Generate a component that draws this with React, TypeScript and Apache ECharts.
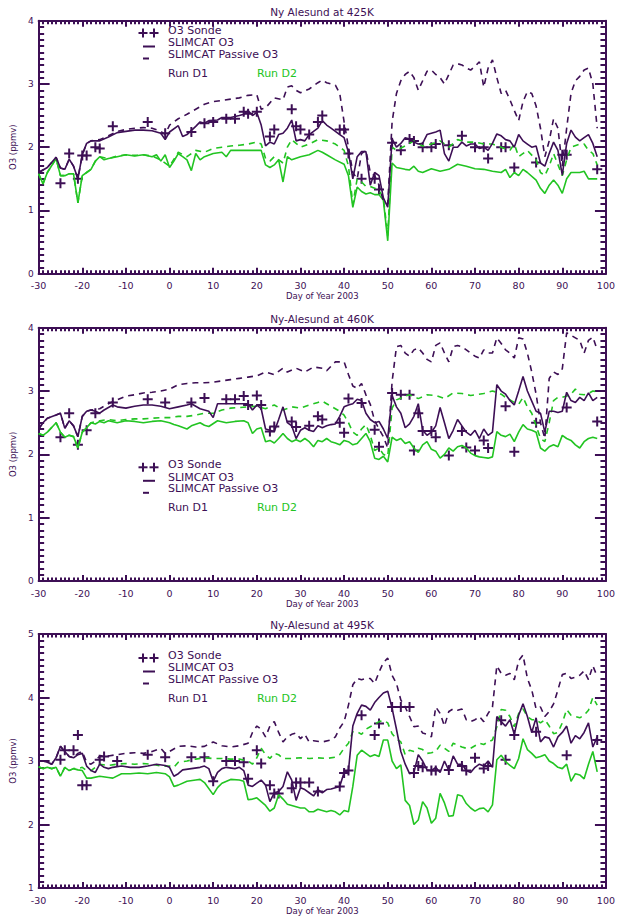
import React, { useEffect, useRef } from 'react';
import * as echarts from 'echarts';

const PURPLE = '#3d0f55';
const GREEN = '#22c422';
const FONT = 'DejaVu Sans';

const TITLES = ['Ny Alesund at 425K', 'Ny-Alesund at 460K', 'Ny-Alesund at 495K'];
const Y_MIN = [0, 0, 1];
const Y_MAX = [4, 4, 5];
const X_MIN = -30;
const X_MAX = 100;
const X_NAME = 'Day of Year 2003';
const Y_NAME = 'O3 (ppmv)';
const LEGEND_LABELS = ['O3 Sonde', 'SLIMCAT O3', 'SLIMCAT Passive O3', 'Run D1', 'Run D2'];

// ---------- Panel 1 : 425K ----------
const p1D1 = [[-30,1.6],[-28,1.68],[-26,1.84],[-25,1.67],[-24,1.65],[-23,1.81],[-22,1.7],[-21,1.5],[-20,1.88],[-19,2.06],[-18,2.1],[-16,2.1],[-14,2.16],[-12,2.23],[-10,2.25],[-8,2.27],[-6,2.27],[-4,2.26],[-2,2.22],[-1,2.12],[0,2.24],[2,2.34],[3,2.17],[4,2.2],[6,2.33],[7,2.4],[8,2.38],[9,2.42],[11,2.43],[12,2.47],[14,2.47],[16,2.5],[17,2.52],[18,2.58],[19,2.5],[20,2.55],[21,2.35],[22,2.02],[23,2.08],[24,2.05],[25,2.2],[26,2.22],[27,2.3],[28,2.43],[29,2.1],[30,2.12],[31,2.1],[32,2.2],[33,2.25],[34,2.3],[35,2.42],[36,2.35],[37,2.3],[38,2.25],[39,2.2],[40,2.15],[41,1.92],[42,1.5],[43,1.85],[44,1.93],[45,1.93],[46,1.4],[47,1.6],[48,1.55],[49,1.2],[50,1.05],[51,2.13],[52,2.0],[53,2.06],[54,2.15],[55,2.13],[56,2.08],[57,2.05],[58,2.06],[59,2.2],[60,2.22],[61,2.24],[62,2.27],[63,1.9],[64,1.78],[65,2.0],[66,2.0],[67,2.08],[68,2.02],[69,2.05],[70,2.05],[71,1.98],[72,2.0],[73,1.95],[74,2.06],[75,2.21],[76,2.18],[77,2.12],[78,2.1],[79,2.0],[80,2.2],[81,2.1],[82,2.05],[83,2.0],[84,2.02],[85,1.75],[86,1.7],[87,1.9],[88,2.08],[89,1.95],[90,1.56],[91,2.06],[92,2.27],[93,2.16],[94,2.1],[95,2.15],[96,2.2],[97,2.06],[98,1.85]];
const p1D1Passive = [[-30,1.6],[-28,1.68],[-26,1.84],[-25,1.67],[-24,1.65],[-23,1.81],[-22,1.7],[-21,1.5],[-20,1.88],[-19,2.06],[-18,2.1],[-16,2.12],[-14,2.18],[-12,2.25],[-10,2.28],[-8,2.3],[-6,2.31],[-4,2.3],[-2,2.25],[-1,2.2],[0,2.35],[2,2.45],[4,2.52],[6,2.6],[8,2.68],[10,2.72],[12,2.74],[14,2.76],[16,2.78],[18,2.82],[20,2.83],[21,2.6],[22,2.62],[24,2.78],[26,2.75],[27,2.95],[28,2.97],[29,2.9],[30,2.86],[32,2.92],[34,3.02],[35,3.06],[36,3.02],[38,2.98],[39,2.85],[40,2.4],[41,2.0],[42,1.6],[43,1.5],[44,1.9],[45,1.95],[46,1.6],[47,1.55],[48,1.4],[49,1.15],[50,1.1],[51,2.4],[52,2.85],[53,3.05],[54,3.15],[55,3.2],[56,3.1],[57,2.9],[58,3.05],[59,3.2],[60,3.22],[61,3.15],[62,3.1],[63,3.0],[64,3.15],[65,3.3],[66,3.32],[67,3.3],[68,3.25],[69,3.22],[70,3.28],[71,3.35],[72,2.95],[73,3.25],[74,3.38],[75,3.1],[76,2.85],[77,2.9],[78,2.75],[79,2.58],[80,2.42],[81,2.72],[82,2.88],[83,2.85],[84,2.65],[85,2.3],[86,1.85],[87,2.1],[88,2.45],[89,2.3],[90,1.7],[91,2.3],[92,2.85],[93,3.05],[94,3.12],[95,3.22],[96,3.25],[97,3.0],[98,2.3]];
const p1D2 = [[-30,1.58],[-29,1.42],[-28,1.6],[-26,1.82],[-25,1.55],[-24,1.55],[-23,1.58],[-22,1.58],[-21,1.12],[-20,1.55],[-19,1.6],[-18,1.65],[-17,1.78],[-16,1.85],[-15,1.8],[-14,1.82],[-12,1.85],[-10,1.88],[-8,1.86],[-6,1.88],[-4,1.85],[-3,1.88],[-2,1.78],[-1,1.88],[0,1.68],[1,1.78],[2,1.9],[3,1.85],[4,1.8],[5,1.63],[6,1.9],[7,1.8],[8,1.85],[10,1.9],[12,1.92],[13,1.85],[14,1.95],[16,1.95],[18,1.95],[20,1.95],[21,1.95],[22,1.72],[23,1.68],[24,1.72],[25,1.8],[26,1.45],[27,1.85],[28,1.8],[30,1.85],[32,1.88],[34,1.95],[35,1.92],[36,1.88],[38,1.8],[40,1.73],[41,1.55],[42,1.05],[43,1.37],[44,1.3],[45,1.26],[46,1.28],[47,1.25],[48,1.25],[49,1.16],[50,0.52],[51,1.75],[52,1.68],[54,1.65],[55,1.64],[56,1.7],[57,1.62],[58,1.6],[60,1.66],[62,1.62],[64,1.65],[66,1.73],[68,1.7],[70,1.66],[72,1.65],[74,1.62],[76,1.6],[77,1.65],[78,1.52],[79,1.6],[80,1.55],[81,1.65],[82,1.6],[84,1.48],[85,1.35],[86,1.27],[87,1.4],[88,1.48],[89,1.4],[90,1.27],[91,1.5],[92,1.6],[94,1.6],[95,1.62],[96,1.5],[98,1.5]];
const p1D2Passive = [[-30,1.58],[-29,1.42],[-28,1.6],[-26,1.82],[-25,1.55],[-24,1.55],[-23,1.58],[-22,1.58],[-21,1.12],[-20,1.55],[-19,1.6],[-18,1.65],[-17,1.78],[-16,1.85],[-14,1.82],[-12,1.86],[-10,1.88],[-8,1.87],[-6,1.88],[-4,1.86],[-2,1.8],[0,1.7],[2,1.92],[4,1.85],[6,1.95],[8,1.92],[10,1.98],[12,2.0],[14,2.02],[16,2.03],[18,2.05],[20,2.08],[21,2.05],[22,1.82],[23,1.78],[24,1.85],[26,1.75],[27,2.0],[28,2.12],[30,2.0],[32,2.05],[34,2.12],[36,2.1],[38,2.05],[40,1.95],[41,1.7],[42,1.1],[43,1.5],[44,1.45],[45,1.38],[46,1.38],[47,1.35],[48,1.32],[49,1.2],[50,0.6],[51,2.0],[52,1.95],[54,2.02],[56,2.1],[58,2.02],[60,2.05],[62,2.1],[64,2.0],[66,2.12],[68,2.08],[70,2.08],[72,2.05],[74,2.05],[76,2.0],[78,1.95],[79,2.05],[80,1.85],[82,1.95],[84,1.8],[85,1.6],[86,1.55],[87,1.7],[88,1.9],[90,1.55],[91,1.8],[92,2.0],[94,2.05],[95,2.05],[96,1.95],[97,1.9],[98,1.72]];
const p1Sonde = [[-25,1.43],[-23,1.9],[-21,1.5],[-20,1.87],[-19,1.87],[-17,2.0],[-16,1.98],[-13,2.33],[-5,2.4],[-1,2.22],[5,2.24],[8,2.38],[10,2.4],[13,2.45],[15,2.45],[17,2.56],[18,2.53],[20,2.56],[23,2.17],[24,2.28],[28,2.6],[29,2.33],[30,2.28],[32,2.2],[34,2.4],[35,2.5],[39,2.28],[40,2.28],[41,1.9],[44,1.5],[47,1.5],[48,1.33],[51,2.07],[53,1.95],[55,2.13],[56,2.1],[58,2.0],[60,2.0],[61,2.05],[64,2.03],[67,2.18],[70,2.0],[72,2.0],[73,1.82],[76,2.0],[77,2.0],[79,1.68],[84,1.76],[90,1.88],[91,1.88],[98,1.65]];

// ---------- Panel 2 : 460K ----------
const p2D1 = [[-30,2.4],[-29,2.5],[-28,2.57],[-26,2.62],[-25,2.65],[-24,2.41],[-23,2.53],[-22,2.45],[-21,2.28],[-20,2.6],[-19,2.68],[-18,2.7],[-17,2.68],[-16,2.65],[-15,2.7],[-13,2.78],[-12,2.75],[-10,2.73],[-8,2.76],[-6,2.78],[-4,2.78],[-2,2.76],[0,2.72],[2,2.75],[4,2.78],[5,2.8],[7,2.72],[9,2.68],[10,2.58],[11,2.8],[13,2.8],[15,2.8],[17,2.8],[18,2.8],[19,2.7],[20,2.78],[21,2.72],[22,2.4],[23,2.38],[24,2.36],[25,2.55],[26,2.75],[27,2.5],[28,2.45],[29,2.25],[30,2.38],[31,2.42],[32,2.38],[33,2.36],[34,2.45],[35,2.42],[36,2.45],[37,2.47],[38,2.48],[39,2.6],[40,2.75],[41,2.78],[42,2.8],[43,2.87],[44,2.85],[45,2.65],[46,2.55],[47,2.5],[48,2.52],[49,2.4],[50,2.25],[51,2.93],[52,2.75],[53,2.65],[54,2.42],[55,2.48],[56,2.6],[57,2.8],[58,2.38],[59,2.3],[60,2.35],[61,2.45],[62,2.74],[63,2.5],[64,2.25],[65,2.38],[66,2.55],[67,2.45],[68,2.35],[69,2.3],[70,2.38],[71,2.25],[72,2.4],[73,2.3],[74,2.35],[75,3.1],[76,3.0],[77,2.95],[78,2.85],[79,2.78],[80,3.0],[81,3.23],[82,3.0],[83,2.84],[84,2.68],[85,2.65],[86,2.35],[87,2.68],[88,2.68],[89,2.66],[90,2.68],[91,2.98],[92,2.85],[93,2.82],[94,2.9],[95,2.85],[96,2.97],[97,2.85],[98,2.9]];
const p2D1Passive = [[-30,2.4],[-29,2.5],[-28,2.57],[-26,2.62],[-25,2.65],[-24,2.41],[-23,2.53],[-22,2.45],[-21,2.28],[-20,2.6],[-19,2.68],[-18,2.7],[-16,2.72],[-14,2.8],[-12,2.86],[-10,2.92],[-8,2.94],[-6,2.97],[-4,2.98],[-2,3.0],[0,3.03],[2,3.1],[4,3.12],[6,3.13],[8,3.13],[10,3.14],[12,3.16],[14,3.18],[16,3.2],[18,3.22],[20,3.24],[22,3.3],[24,3.26],[26,3.36],[27,3.3],[29,3.36],[31,3.3],[33,3.38],[35,3.36],[36,3.32],[38,3.46],[40,3.46],[41,3.26],[42,3.08],[43,3.04],[44,3.12],[45,2.94],[46,2.79],[47,2.53],[48,2.4],[49,2.28],[50,2.1],[51,3.15],[52,3.7],[53,3.72],[54,3.6],[55,3.55],[56,3.65],[57,3.68],[58,3.6],[59,3.5],[60,3.46],[61,3.72],[62,3.76],[63,3.6],[64,3.46],[65,3.7],[66,3.72],[67,3.7],[68,3.65],[69,3.6],[70,3.55],[71,3.52],[72,3.65],[73,3.6],[74,3.6],[75,3.84],[76,3.75],[77,3.65],[78,3.6],[79,3.52],[80,3.84],[81,3.82],[82,3.6],[83,3.3],[84,2.95],[85,2.5],[86,2.25],[87,3.2],[88,3.3],[89,3.26],[90,3.35],[91,3.92],[92,3.88],[93,3.84],[94,3.8],[95,3.6],[96,3.8],[97,3.85],[98,3.65]];
const p2D2 = [[-30,2.33],[-29,2.3],[-28,2.35],[-26,2.5],[-25,2.35],[-24,2.27],[-23,2.3],[-22,2.28],[-21,2.1],[-20,2.35],[-19,2.42],[-18,2.5],[-17,2.48],[-16,2.52],[-15,2.5],[-14,2.53],[-12,2.5],[-10,2.53],[-8,2.52],[-6,2.5],[-4,2.52],[-2,2.53],[0,2.5],[1,2.47],[2,2.45],[4,2.4],[5,2.45],[7,2.5],[8,2.46],[9,2.44],[11,2.53],[13,2.5],[15,2.52],[17,2.53],[18,2.5],[19,2.33],[20,2.4],[21,2.42],[22,2.2],[23,2.22],[24,2.18],[25,2.25],[26,2.33],[27,2.25],[28,2.2],[29,2.23],[30,2.2],[31,2.25],[32,2.2],[33,2.12],[34,2.22],[35,2.2],[36,2.25],[37,2.2],[38,2.18],[39,2.15],[40,2.22],[41,2.2],[42,2.15],[43,2.17],[44,2.25],[45,2.33],[46,2.2],[47,1.94],[48,1.92],[49,1.97],[50,1.88],[51,2.27],[52,2.22],[53,2.25],[54,2.17],[55,2.2],[56,2.1],[57,2.03],[58,2.15],[59,2.2],[60,2.08],[61,2.05],[62,1.94],[63,2.0],[64,2.1],[65,2.05],[66,2.12],[67,2.14],[68,2.1],[69,2.02],[70,1.98],[71,1.96],[72,1.95],[73,1.94],[74,1.96],[75,2.36],[76,2.3],[77,2.28],[78,2.32],[79,2.2],[80,2.35],[81,2.47],[82,2.4],[83,2.38],[84,2.35],[85,2.1],[86,2.05],[87,2.12],[88,2.15],[89,2.12],[90,2.3],[91,2.25],[92,2.22],[93,2.15],[94,2.1],[95,2.2],[96,2.25],[97,2.27],[98,2.25]];
const p2D2Passive = [[-30,2.33],[-29,2.3],[-28,2.35],[-26,2.5],[-25,2.35],[-24,2.27],[-23,2.3],[-22,2.28],[-21,2.1],[-20,2.35],[-19,2.42],[-18,2.5],[-16,2.53],[-14,2.55],[-12,2.53],[-10,2.55],[-8,2.56],[-6,2.56],[-4,2.57],[-2,2.58],[0,2.58],[2,2.6],[4,2.6],[6,2.62],[8,2.65],[10,2.65],[12,2.7],[14,2.73],[16,2.74],[18,2.75],[20,2.76],[22,2.72],[24,2.78],[26,2.7],[28,2.75],[30,2.73],[32,2.78],[34,2.82],[35,2.84],[36,2.8],[38,2.72],[39,2.68],[40,2.62],[41,2.5],[42,2.35],[43,2.3],[44,2.4],[45,2.47],[46,2.3],[47,2.06],[48,2.1],[49,2.0],[50,1.97],[51,2.73],[52,2.86],[54,2.92],[55,2.94],[57,2.88],[59,2.94],[61,2.93],[63,2.88],[65,2.97],[67,2.96],[69,2.93],[70,2.94],[72,2.96],[74,3.0],[75,2.98],[76,2.95],[77,2.9],[78,2.86],[79,2.82],[80,2.79],[81,2.9],[82,2.75],[83,2.65],[84,2.45],[85,2.25],[86,2.2],[87,2.5],[88,2.85],[89,2.9],[90,2.9],[91,2.92],[92,2.95],[93,3.03],[94,2.95],[95,2.94],[96,2.96],[97,3.0],[98,2.99]];
const p2Sonde = [[-25,2.27],[-23,2.65],[-21,2.15],[-19,2.38],[-17,2.65],[-13,2.82],[-5,2.87],[-1,2.82],[5,2.82],[8,2.89],[13,2.87],[15,2.87],[17,2.92],[18,2.78],[20,2.93],[21,2.78],[23,2.36],[24,2.44],[28,2.52],[29,2.43],[32,2.45],[34,2.6],[35,2.55],[39,2.5],[40,2.34],[41,2.88],[44,2.81],[47,2.39],[48,2.12],[51,2.97],[53,2.94],[55,2.94],[56,2.06],[57,2.65],[58,2.37],[60,2.37],[61,2.27],[64,1.98],[67,2.37],[68,2.11],[70,2.06],[72,2.22],[73,2.1],[77,2.76],[79,2.04],[84,2.5],[91,2.74],[98,2.52]];

// ---------- Panel 3 : 495K ----------
const p3D1 = [[-30,3.0],[-29,3.0],[-28,2.98],[-27,2.95],[-26,3.05],[-25,3.23],[-24,3.15],[-23,3.07],[-22,3.05],[-21,3.1],[-20,3.12],[-19,2.92],[-18,2.85],[-17,2.82],[-16,2.95],[-15,2.9],[-14,2.88],[-13,2.9],[-11,2.92],[-9,2.9],[-7,2.9],[-5,2.92],[-3,2.95],[-1,2.93],[0,2.9],[1,2.76],[2,2.8],[3,2.86],[5,2.88],[7,2.9],[8,2.92],[9,2.88],[10,2.68],[11,2.82],[12,2.88],[13,2.9],[15,2.88],[16,2.9],[17,2.85],[18,2.62],[19,2.6],[20,2.65],[21,2.7],[22,2.62],[23,2.36],[24,2.5],[25,2.52],[26,2.6],[27,2.83],[28,2.7],[29,2.38],[30,2.58],[31,2.55],[32,2.5],[33,2.45],[34,2.55],[35,2.5],[36,2.55],[37,2.56],[38,2.58],[39,2.6],[40,2.82],[41,2.85],[42,3.55],[43,3.75],[44,3.88],[45,3.86],[46,3.8],[47,3.92],[48,4.0],[49,4.07],[50,4.1],[51,3.83],[52,3.5],[53,3.15],[54,2.95],[55,2.8],[56,2.82],[57,3.1],[58,3.0],[59,2.86],[60,2.85],[61,2.9],[62,2.82],[63,3.0],[64,2.85],[65,3.08],[66,2.95],[67,2.95],[68,2.85],[69,2.82],[70,2.9],[71,2.95],[72,2.92],[73,3.0],[74,2.9],[75,3.7],[76,3.62],[77,3.55],[78,3.65],[79,3.42],[80,3.72],[81,3.9],[82,3.7],[83,3.45],[84,3.68],[85,3.3],[86,3.38],[87,3.36],[88,3.22],[89,3.38],[90,3.45],[91,3.55],[92,3.28],[93,3.4],[94,3.35],[95,3.45],[96,3.6],[97,3.22],[98,3.38]];
const p3D1Passive = [[-30,3.0],[-29,3.0],[-28,2.98],[-27,2.95],[-26,3.05],[-25,3.23],[-24,3.15],[-23,3.07],[-22,3.05],[-21,3.12],[-20,3.15],[-19,2.98],[-18,2.95],[-17,3.0],[-16,3.08],[-14,3.08],[-12,3.1],[-10,3.12],[-8,3.13],[-6,3.12],[-4,3.15],[-2,3.2],[-1,3.12],[0,3.15],[2,3.23],[4,3.24],[6,3.22],[8,3.23],[10,3.3],[12,3.24],[14,3.22],[16,3.24],[18,3.28],[19,3.45],[20,3.55],[21,3.5],[22,3.38],[23,3.55],[24,3.62],[25,3.45],[26,3.3],[27,3.38],[28,3.42],[29,3.44],[30,3.35],[31,3.42],[32,3.3],[33,3.32],[35,3.3],[37,3.33],[38,3.38],[39,3.52],[40,3.62],[41,3.88],[42,4.2],[43,4.3],[44,4.28],[45,4.3],[46,4.3],[47,4.22],[48,4.4],[49,4.55],[50,4.62],[51,4.35],[52,4.22],[53,3.96],[54,3.85],[55,3.7],[56,3.54],[57,3.55],[58,3.44],[59,3.42],[60,3.38],[61,3.85],[62,3.75],[63,3.55],[64,3.78],[65,3.82],[66,3.8],[67,3.82],[68,3.65],[69,3.62],[70,3.65],[71,3.7],[72,3.62],[73,3.75],[74,3.85],[75,4.5],[76,4.38],[77,4.35],[78,4.38],[79,4.28],[80,4.58],[81,4.67],[82,4.3],[83,4.12],[84,3.82],[85,3.85],[86,3.7],[87,3.78],[88,3.9],[89,4.12],[90,4.36],[91,4.38],[92,4.3],[93,4.32],[94,4.35],[95,4.42],[96,4.28],[97,4.5],[98,4.33]];
const p3D2 = [[-30,2.91],[-29,2.88],[-28,2.9],[-27,2.88],[-26,2.9],[-25,2.76],[-24,2.9],[-23,2.85],[-22,2.88],[-21,2.86],[-20,2.85],[-19,2.73],[-18,2.73],[-16,2.76],[-14,2.74],[-13,2.73],[-11,2.8],[-9,2.8],[-7,2.81],[-5,2.8],[-3,2.82],[-1,2.8],[0,2.75],[1,2.6],[2,2.62],[4,2.68],[6,2.7],[7,2.71],[8,2.66],[10,2.47],[11,2.58],[12,2.65],[14,2.71],[16,2.7],[17,2.68],[18,2.39],[19,2.4],[20,2.42],[22,2.3],[23,2.21],[24,2.26],[25,2.47],[26,2.4],[27,2.32],[28,2.3],[29,2.28],[30,2.26],[31,2.26],[32,2.2],[33,2.2],[34,2.24],[35,2.22],[36,2.2],[37,2.22],[38,2.2],[39,2.15],[40,2.22],[41,2.2],[42,2.6],[43,3.09],[44,3.17],[45,3.12],[46,3.07],[47,3.1],[48,3.07],[49,3.33],[50,3.33],[51,3.0],[52,2.88],[53,2.94],[54,2.38],[55,2.3],[56,2.0],[57,2.07],[58,2.36],[59,2.26],[60,2.02],[61,2.1],[62,2.49],[63,2.34],[64,2.13],[65,2.14],[66,2.47],[67,2.45],[68,2.33],[69,2.26],[70,2.21],[71,2.25],[72,2.26],[73,2.2],[74,2.31],[75,3.02],[76,3.09],[77,2.99],[78,2.93],[79,2.88],[80,3.04],[81,3.35],[82,3.18],[83,3.12],[84,3.05],[85,3.07],[86,3.1],[87,3.0],[88,2.96],[89,2.9],[90,2.88],[91,2.95],[92,2.68],[93,2.8],[94,2.78],[95,2.72],[96,2.95],[97,3.15],[98,2.83]];
const p3D2Passive = [[-30,2.91],[-29,2.88],[-28,2.9],[-27,2.88],[-26,2.9],[-25,2.76],[-24,2.9],[-23,2.85],[-22,2.88],[-21,2.88],[-20,2.9],[-19,2.85],[-18,2.85],[-16,2.95],[-14,2.93],[-12,2.95],[-10,2.96],[-8,2.95],[-6,2.96],[-4,2.95],[-2,2.92],[0,2.92],[1,2.9],[2,2.98],[4,3.0],[6,3.03],[8,3.05],[10,3.04],[12,3.04],[14,3.03],[16,3.03],[18,3.0],[19,2.95],[20,3.05],[21,3.2],[22,3.1],[23,3.04],[24,3.12],[25,3.1],[26,3.04],[28,3.04],[30,3.05],[32,3.04],[34,3.05],[36,3.04],[38,3.06],[39,3.1],[40,3.2],[41,3.28],[42,3.46],[43,3.46],[44,3.42],[45,3.5],[46,3.54],[47,3.58],[48,3.62],[49,3.64],[50,3.6],[51,3.43],[52,3.35],[53,3.3],[54,3.1],[55,3.17],[56,3.15],[57,3.2],[58,3.18],[59,3.12],[60,3.13],[61,3.15],[62,3.25],[63,3.2],[64,3.15],[65,3.28],[66,3.25],[67,3.22],[68,3.2],[69,3.2],[70,3.24],[71,3.28],[72,3.26],[73,3.3],[74,3.33],[75,3.54],[76,3.81],[77,3.8],[78,3.7],[79,3.54],[80,3.75],[81,3.82],[82,3.7],[83,3.65],[84,3.65],[85,3.6],[86,3.65],[87,3.55],[88,3.43],[89,3.45],[90,3.6],[91,3.81],[92,3.72],[93,3.7],[94,3.68],[95,3.72],[96,3.8],[97,4.0],[98,3.88]];
const p3Sonde = [[-25,3.02],[-24,3.17],[-22,3.17],[-21,3.41],[-20,2.62],[-19,2.62],[-16,3.02],[-15,3.07],[-12,3.0],[-5,3.1],[-1,3.06],[5,3.06],[8,3.06],[10,2.68],[13,3.0],[15,3.0],[17,2.98],[18,2.72],[20,3.17],[21,2.96],[23,2.62],[24,2.49],[25,2.49],[28,2.57],[29,2.66],[30,2.66],[32,2.66],[34,2.52],[39,2.6],[40,2.81],[41,2.85],[44,3.72],[47,3.41],[48,3.59],[51,3.85],[53,3.85],[55,3.85],[56,2.81],[57,2.92],[58,2.9],[60,2.85],[61,2.85],[64,2.86],[67,2.92],[68,2.85],[70,3.05],[72,2.88],[73,2.92],[76,3.64],[77,3.02],[79,3.41],[84,3.46],[91,3.09],[98,3.33]];

const PANELS = [
  { d1: p1D1, d1p: p1D1Passive, d2: p1D2, d2p: p1D2Passive, sonde: p1Sonde },
  { d1: p2D1, d1p: p2D1Passive, d2: p2D2, d2p: p2D2Passive, sonde: p2Sonde },
  { d1: p3D1, d1p: p3D1Passive, d2: p3D2, d2p: p3D2Passive, sonde: p3Sonde },
];

// layout (pixels)
const GRID_LEFT = 36.7;
const GRID_RIGHT = 8.7;
const GRID_TOP = [20.7, 327.7, 634];
const GRID_H = [253, 253.3, 254];
const TITLE_Y = [12, 319, 625];
const LEGEND_Y = [30, 464.3, 655];

const PLUS = 'path://M4 0H6V4H10V6H6V10H4V6H0V4H4Z';

function buildOption() {
  const grid: any[] = [];
  const xAxis: any[] = [];
  const yAxis: any[] = [];
  const series: any[] = [];
  const graphic: any[] = [];
  const lineCol = { color: PURPLE, width: 2, opacity: 1 };
  const minorCol = { color: PURPLE, width: 2, opacity: 1 };

  for (let i = 0; i < 3; i++) {
    grid.push({ left: GRID_LEFT, right: GRID_RIGHT, top: GRID_TOP[i], height: GRID_H[i] });
    const xBase = {
      type: 'value', gridIndex: i, min: X_MIN, max: X_MAX, interval: 10,
      axisLine: { show: true, onZero: false, lineStyle: lineCol },
      axisTick: { show: true, inside: true, length: 6, lineStyle: lineCol },
      minorTick: { show: true, splitNumber: 10, length: 3.5, lineStyle: minorCol },
      splitLine: { show: false },
      minorSplitLine: { show: false },
    };
    xAxis.push({
      ...xBase, position: 'bottom',
      axisLabel: { show: true, color: PURPLE, fontSize: 9.5, fontFamily: FONT, margin: 7 },
      name: X_NAME, nameLocation: 'middle', nameGap: 18,
      nameTextStyle: { color: PURPLE, fontSize: 8.5, fontFamily: FONT },
    });
    xAxis.push({ ...xBase, position: 'top', axisLabel: { show: false } });
    const yBase = {
      type: 'value', gridIndex: i, min: Y_MIN[i], max: Y_MAX[i], interval: 1,
      axisLine: { show: true, onZero: false, lineStyle: lineCol },
      axisTick: { show: true, inside: true, length: 11, lineStyle: lineCol },
      minorTick: { show: true, splitNumber: 10, length: 5.5, lineStyle: minorCol },
      splitLine: { show: false },
      minorSplitLine: { show: false },
    };
    yAxis.push({
      ...yBase, position: 'left',
      axisLabel: { show: true, color: PURPLE, fontSize: 9, fontFamily: FONT, margin: 5 },
      name: Y_NAME, nameLocation: 'middle', nameGap: 13,
      nameTextStyle: { color: PURPLE, fontSize: 8.5, fontFamily: FONT },
    });
    yAxis.push({ ...yBase, position: 'right', axisLabel: { show: false } });

    const p = PANELS[i];
    const mk = (data: number[][], color: string, dashed: boolean) => ({
      type: 'line', xAxisIndex: 2 * i, yAxisIndex: 2 * i, data,
      symbol: 'none', showSymbol: false, silent: true, clip: true,
      lineStyle: { color, width: 1.6, type: dashed ? [6, 5] : 'solid', opacity: 1 },
    });
    series.push(mk(p.d2p, GREEN, true));
    series.push(mk(p.d2, GREEN, false));
    series.push(mk(p.d1p, PURPLE, true));
    series.push(mk(p.d1, PURPLE, false));
    series.push({
      type: 'scatter', xAxisIndex: 2 * i, yAxisIndex: 2 * i, data: p.sonde,
      symbol: PLUS, symbolSize: 10, silent: true, itemStyle: { color: PURPLE, opacity: 1 },
    });

    // title
    graphic.push({
      type: 'text', x: 322, y: TITLE_Y[i],
      style: { text: TITLES[i], fill: PURPLE, fontSize: 10.5, fontFamily: FONT, align: 'center', verticalAlign: 'middle' },
    });
    // legend
    const y0 = LEGEND_Y[i];
    const st = { stroke: PURPLE, lineWidth: 2 };
    for (const cx of [143, 154]) {
      graphic.push({ type: 'line', shape: { x1: cx - 4.5, y1: y0 + 3, x2: cx + 4.5, y2: y0 + 3 }, style: st });
      graphic.push({ type: 'line', shape: { x1: cx, y1: y0 - 1.5, x2: cx, y2: y0 + 7.5 }, style: st });
    }
    graphic.push({ type: 'line', shape: { x1: 143, y1: y0 + 16.5, x2: 155, y2: y0 + 16.5 }, style: st });
    graphic.push({ type: 'line', shape: { x1: 143, y1: y0 + 28.5, x2: 149, y2: y0 + 28.5 }, style: st });
    const ty = [y0, y0 + 12.7, y0 + 24.5, y0 + 43.5, y0 + 43.5];
    const tx = [168, 168, 168, 168, 257];
    const tc = [PURPLE, PURPLE, PURPLE, PURPLE, GREEN];
    for (let k = 0; k < 5; k++) {
      graphic.push({
        type: 'text', x: tx[k], y: ty[k],
        style: { text: LEGEND_LABELS[k], fill: tc[k], fontSize: 11, fontFamily: FONT, align: 'left', verticalAlign: 'middle' },
      });
    }
  }

  return {
    animation: false,
    backgroundColor: '#ffffff',
    grid, xAxis, yAxis, series, graphic,
  };
}

export default function App() {
  const ref = useRef<HTMLDivElement>(null);
  useEffect(() => {
    if (!ref.current) return;
    const chart = echarts.init(ref.current, undefined, { renderer: 'svg' });
    chart.setOption(buildOption() as any);
    return () => chart.dispose();
  }, []);
  return (
    <div
      ref={ref}
      style={{ position: 'absolute', left: 0, top: 0, width: 618, height: 916, background: '#fff' }}
    />
  );
}
